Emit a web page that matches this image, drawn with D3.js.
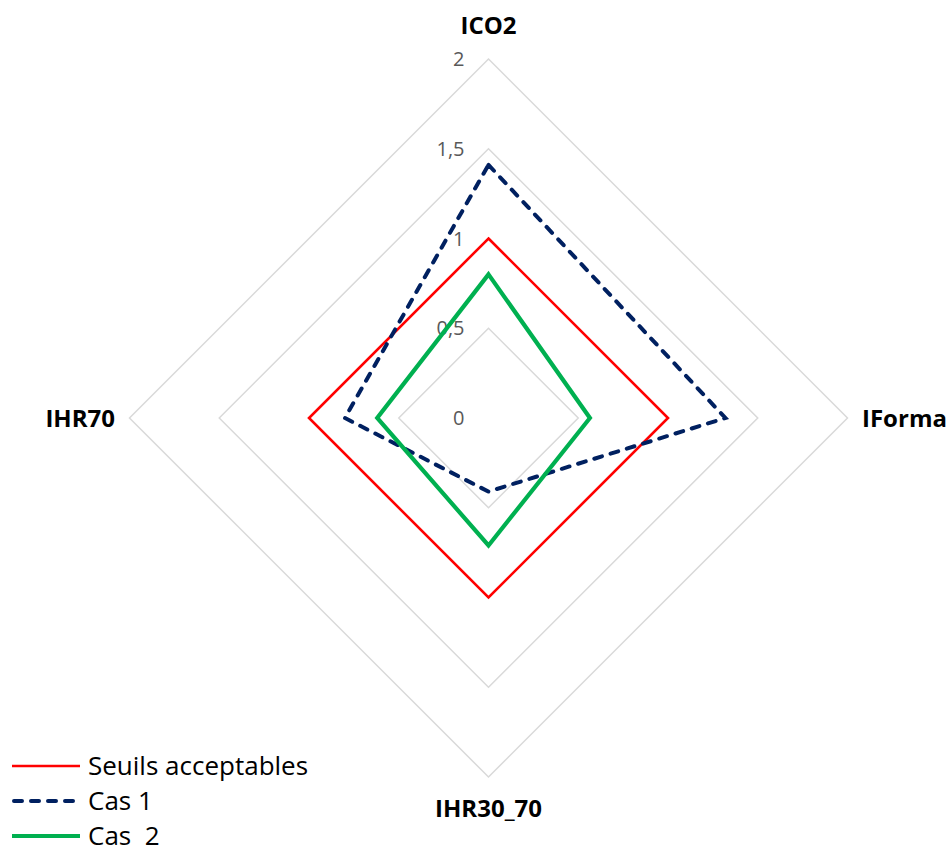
<!DOCTYPE html>
<html>
<head>
<meta charset="utf-8">
<script src="https://cdn.jsdelivr.net/npm/d3@7"></script>
<style>
  html, body { margin: 0; padding: 0; background: #fff; }
  svg { display: block; font-family: "Open Sans", "Noto Sans", sans-serif; }
</style>
</head>
<body>
<svg id="chart" width="948" height="848"></svg>
<script>
// Radar axes, clockwise from the top
const axes = ["ICO2", "IForma", "IHR30_70", "IHR70"];
const tickValues = [0, 0.5, 1, 1.5, 2];
const tickLabels = ["0", "0,5", "1", "1,5", "2"];

const seriesNames = ["Seuils acceptables", "Cas 1", "Cas  2"];
const seuils = [1, 1, 1, 1];
const cas1 = [1.41, 1.32, 0.41, 0.80];
const cas2 = [0.80, 0.565, 0.71, 0.62];

const seriesValues = [seuils, cas1, cas2];
const seriesStyle = [
  { color: "#ff0000", width: 2.6, dash: null },
  { color: "#002060", width: 4, dash: "8,9" },
  { color: "#00b050", width: 4.2, dash: null }
];

const svg = d3.select("#chart");
const cx = 488.5, cy = 418, R = 359;

const r = d3.scaleLinear().domain([0, 2]).range([0, R]);
const angle = d3.scalePoint().domain(axes.concat(["_end"])).range([0, 2 * Math.PI]);

function pt(axis, v) {
  const a = angle(axis);
  return [cx + r(v) * Math.sin(a), cy - r(v) * Math.cos(a)];
}

// Grid polygons
const grid = svg.append("g");
tickValues.filter(t => t > 0).forEach(t => {
  grid.append("path")
    .attr("d", d3.line()(axes.map(a => pt(a, t))) + "Z")
    .attr("fill", "none")
    .attr("stroke", "#d9d9d9")
    .attr("stroke-width", 1.5);
});

// Tick labels along the top axis
svg.append("g").selectAll("text")
  .data(tickValues)
  .join("text")
  .attr("x", cx - 24)
  .attr("y", d => cy - r(d))
  .attr("dy", "0.35em")
  .attr("text-anchor", "end")
  .attr("font-size", 20)
  .attr("fill", "#595959")
  .text((d, i) => tickLabels[i]);

// Series
const lineGen = d3.line();
seriesValues.forEach((vals, i) => {
  const s = seriesStyle[i];
  svg.append("path")
    .attr("d", lineGen(axes.map((a, k) => pt(a, vals[k]))) + "Z")
    .attr("fill", "none")
    .attr("stroke", s.color)
    .attr("stroke-width", s.width)
    .attr("stroke-linejoin", "miter")
    .attr("stroke-linecap", s.dash ? "round" : "butt")
    .attr("stroke-dasharray", s.dash);
});

// Axis labels
const labelPos = [
  { x: cx, y: 34, anchor: "middle" },
  { x: 862, y: 427, anchor: "start" },
  { x: cx, y: 817, anchor: "middle" },
  { x: 115, y: 427, anchor: "end" }
];
svg.append("g").selectAll("text")
  .data(axes)
  .join("text")
  .attr("x", (d, i) => labelPos[i].x)
  .attr("y", (d, i) => labelPos[i].y)
  .attr("text-anchor", (d, i) => labelPos[i].anchor)
  .attr("font-size", 24)
  .attr("font-weight", "bold")
  .attr("fill", "#000")
  .text(d => d);

// Legend
const legend = svg.append("g");
seriesNames.forEach((name, i) => {
  const s = seriesStyle[i];
  const y = 766 + i * 35;
  legend.append("line")
    .attr("x1", s.dash ? 14 : 12).attr("x2", s.dash ? 78 : 80)
    .attr("y1", y).attr("y2", y)
    .attr("stroke", s.color)
    .attr("stroke-width", s.width)
    .attr("stroke-linecap", s.dash ? "round" : "butt")
    .attr("stroke-dasharray", s.dash);
  legend.append("text")
    .attr("x", 88)
    .attr("y", y)
    .attr("dy", "0.35em")
    .attr("font-size", 26)
    .attr("fill", "#000")
    .style("white-space", "pre")
    .text(name);
});
</script>
</body>
</html>
